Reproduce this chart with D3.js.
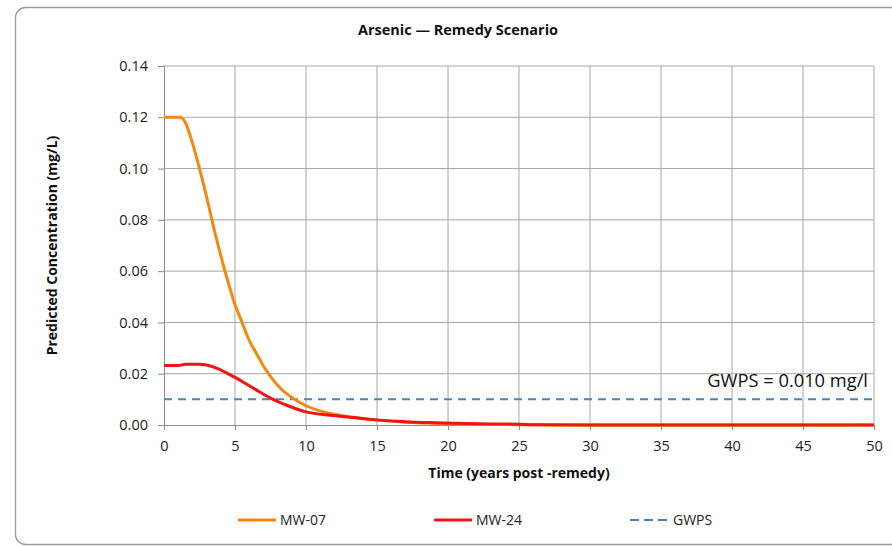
<!doctype html>
<html>
<head>
<title>Arsenic - Remedy Scenario</title>
<style type="text/css">
body { margin: 0; background: #fff; }
svg { display: block; font-family: "Open Sans", Lato, sans-serif; }
</style>
<script src="https://cdnjs.cloudflare.com/ajax/libs/d3/7.8.5/d3.min.js"></script>
</head>
<body>
<script type="text/javascript">
var width = 892, height = 547;

// Values (years, mg/L)
var mw07Years = [0, 0.5, 1.1, 1.5, 2.0, 2.5, 3.0, 3.5, 4.0, 4.5, 5.0, 5.5, 6.0, 6.5, 7.0, 7.5, 8.0, 8.5, 9.2, 10.0, 11.0, 12.0, 13.0, 15.0, 17.0, 20.0, 23.0, 26.0, 30.0, 40.0, 50.0];
var mw07Conc  = [0.120, 0.120, 0.120, 0.118, 0.110, 0.100, 0.089, 0.077, 0.066, 0.056, 0.047, 0.040, 0.033, 0.028, 0.023, 0.019, 0.0155, 0.0128, 0.010, 0.0075, 0.0055, 0.0042, 0.0032, 0.0019, 0.0011, 0.0005, 0.0002, 0.0001, 0.0, 0.0, 0.0];
var mw24Years = [0, 1.0, 1.5, 2.5, 3.0, 3.7, 4.4, 5.1, 5.8, 6.5, 7.5, 8.6, 10.0, 11.9, 13.5, 15.0, 17.0, 19.0, 22.0, 25.0, 26.0, 30.0, 40.0, 50.0];
var mw24Conc  = [0.0232, 0.0232, 0.0237, 0.0237, 0.0234, 0.0222, 0.0203, 0.0183, 0.0160, 0.0137, 0.0105, 0.0078, 0.0051, 0.0037, 0.0028, 0.0020, 0.0013, 0.0009, 0.0005, 0.0003, 0.0001, 0.0, 0.0, 0.0];
var gwps = 0.010;
var xTicks = [0, 5, 10, 15, 20, 25, 30, 35, 40, 45, 50];
var yTicks = [0, 0.02, 0.04, 0.06, 0.08, 0.10, 0.12, 0.14];
var seriesNames = ["MW-07", "MW-24", "GWPS"];
var seriesColors = ["#f7870f", "#f01414", "#4f81bd"];

var margin = {left: 164, right: 18, top: 66, bottom: 122};

var svg = d3.select("body").append("svg")
	.attr("width", width)
	.attr("height", height);

// chart frame
svg.append("rect")
	.attr("x", 15.5).attr("y", 7.5)
	.attr("width", 900).attr("height", 537)
	.attr("rx", 10)
	.style("fill", "#fff")
	.style("stroke", "#9a9a9a")
	.style("stroke-width", 1.3);

var x = d3.scaleLinear().domain([0, 50]).range([margin.left, width - margin.right]);
var y = d3.scaleLinear().domain([0, 0.14]).range([height - margin.bottom, margin.top]);

// gridlines
svg.append("g").selectAll("line.vg").data(xTicks.slice(1)).enter().append("line")
	.attr("x1", function(d) { return x(d); }).attr("x2", function(d) { return x(d); })
	.attr("y1", y(0)).attr("y2", y(0.14))
	.style("stroke", "#a6a6a6").style("stroke-width", 1);
svg.append("g").selectAll("line.hg").data(yTicks.slice(1)).enter().append("line")
	.attr("x1", x(0)).attr("x2", x(50))
	.attr("y1", function(d) { return y(d); }).attr("y2", function(d) { return y(d); })
	.style("stroke", "#a6a6a6").style("stroke-width", 1);

// axes
var xAxis = d3.axisBottom(x).tickValues(xTicks).tickSize(5).tickPadding(11).tickFormat(d3.format("d"));
var yAxis = d3.axisLeft(y).tickValues(yTicks).tickSize(6).tickPadding(10).tickFormat(d3.format(".2f"));

var gx = svg.append("g").attr("transform", "translate(0," + y(0) + ")").call(xAxis);
var gy = svg.append("g").attr("transform", "translate(" + x(0) + ",0)").call(yAxis);
[gx, gy].forEach(function(g) {
	g.select(".domain").style("stroke", "#8c8c8c");
	g.selectAll(".tick line").style("stroke", "#8c8c8c");
	g.selectAll("text").style("font-size", "14.5px").style("fill", "#222")
		.style("font-family", "'Open Sans', Lato, sans-serif");
});

// GWPS line
svg.append("line")
	.attr("x1", x(0)).attr("x2", x(50))
	.attr("y1", y(gwps)).attr("y2", y(gwps))
	.style("stroke", seriesColors[2]).style("stroke-width", 2)
	.style("stroke-dasharray", "8,6");

var line = d3.line()
	.x(function(d) { return x(d[0]); })
	.y(function(d) { return y(d[1]); })
	.curve(d3.curveMonotoneX);

svg.append("path")
	.datum(d3.zip(mw07Years, mw07Conc))
	.attr("d", line)
	.style("fill", "none").style("stroke", seriesColors[0]).style("stroke-width", 3);
svg.append("path")
	.datum(d3.zip(mw24Years, mw24Conc))
	.attr("d", line)
	.style("fill", "none").style("stroke", seriesColors[1]).style("stroke-width", 3);

// annotation
svg.append("text")
	.attr("x", 868).attr("y", 387)
	.attr("text-anchor", "end")
	.style("font-size", "18.3px").style("fill", "#111")
	.text("GWPS = 0.010 mg/l");

// titles
svg.append("text")
	.attr("x", 458).attr("y", 35)
	.attr("text-anchor", "middle")
	.style("font-size", "14.5px").style("font-weight", "bold").style("fill", "#111")
	.text("Arsenic \u2014 Remedy Scenario");
svg.append("text")
	.attr("x", (x(0) + x(50)) / 2).attr("y", 478)
	.attr("text-anchor", "middle")
	.style("font-size", "14px").style("font-weight", "bold").style("fill", "#111")
	.text("Time (years post -remedy)");
svg.append("text")
	.attr("transform", "translate(57," + ((y(0) + y(0.14)) / 2) + ") rotate(-90)")
	.attr("text-anchor", "middle")
	.style("font-size", "14px").style("font-weight", "bold").style("fill", "#111")
	.text("Predicted Concentration (mg/L)");

// legend
var legendX = [238, 434, 630];
var legend = svg.append("g").selectAll("g").data(seriesNames).enter().append("g")
	.attr("transform", function(d, i) { return "translate(" + legendX[i] + ",520)"; });
legend.append("line")
	.attr("x1", 0).attr("x2", function(d, i) { return i === 2 ? 37 : 38; })
	.attr("y1", 0).attr("y2", 0)
	.style("stroke", function(d, i) { return seriesColors[i]; })
	.style("stroke-width", function(d, i) { return i === 2 ? 2 : 3; })
	.style("stroke-dasharray", function(d, i) { return i === 2 ? "9,5" : null; });
legend.append("text")
	.attr("x", function(d, i) { return i === 2 ? 43 : 42; })
	.attr("y", 5)
	.style("font-size", "14px").style("fill", "#222")
	.text(function(d) { return d; });
</script>
</body>
</html>
